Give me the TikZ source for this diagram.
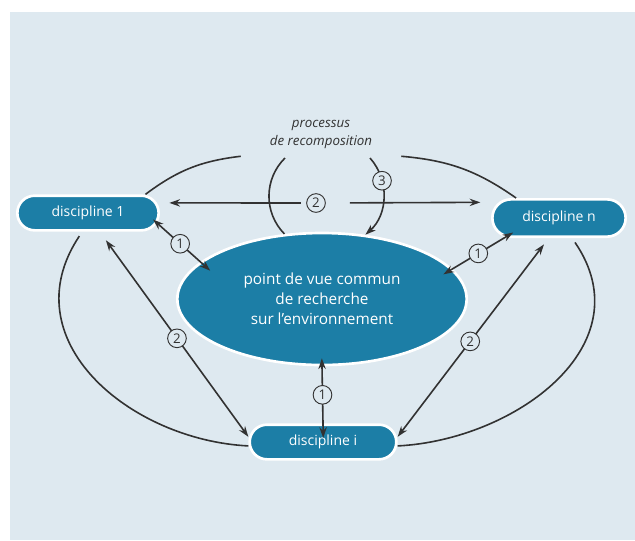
\documentclass[tikz,border=0pt]{standalone}
\usepackage{fontspec}
\setmainfont{Open Sans}
\usetikzlibrary{shapes.geometric,arrows.meta}
\definecolor{bleu}{RGB}{28,126,166}
\definecolor{fond}{RGB}{222,233,240}
\definecolor{trait}{RGB}{50,50,50}

\begin{document}
\begin{tikzpicture}[x=0.75pt,y=0.75pt,
    disc/.style={rectangle, rounded corners=13pt, fill=bleu, draw=white, line width=2pt, text=white, font=\fontsize{10.5}{12}\selectfont, minimum height=26pt},
    pdv/.style={ellipse, fill=bleu, draw=white, line width=2pt, text=white, align=center, inner sep=0pt, minimum width=217pt, minimum height=99pt, font=\fontsize{11.5}{15}\selectfont},
    num/.style={circle, draw=trait, fill=fond, line width=0.7pt, inner sep=0pt, minimum size=14pt, text=trait, font=\fontsize{10}{10}\selectfont},
    fl/.style={draw=trait, line width=1.2pt, >={Stealth[length=8pt,width=5.5pt]}},
    boucle/.style={draw=trait, line width=1.2pt}]
    \useasboundingbox (0,0) rectangle (635,-540);
    \fill[white] (0,0) rectangle (635,-540);
    \fill[fond] (10,-12) rectangle (635,-540);

    %disciplines
    \node[disc, minimum width=106pt] (d1) at (88,-213) {discipline 1};
    \node[disc, minimum width=100pt, minimum height=28pt, rounded corners=14pt] (dn) at (559,-218) {discipline n};
    \node[disc, minimum width=110pt] (di) at (323,-442) {discipline i};

    %point de vue commun
    \node[pdv] (pdv) at (322,-299) {point de vue commun\\de recherche\\sur l'environnement};

    %titre
    \node[align=center, text=trait, font=\fontsize{10}{13.5}\selectfont\itshape, minimum width=120pt, minimum height=33pt, inner sep=0pt] (titre) at (321,-134) {processus\\de recomposition};

    %boucle de recomposition
    \draw[boucle] (d1.18) to[bend left=15] (titre.south west);
    \draw[boucle] (titre.south east) to[bend left=15] (dn.155);
    \draw[boucle, shorten <=4pt] (d1.-107) .. controls (10,-340) and (130,-440) .. (di.183);
    \draw[boucle, shorten <=4pt] (dn.-57) .. controls (645,-345) and (515,-440) .. (di.-3);
    \coordinate (pa) at (285,-158);
    \draw[boucle] (pdv.120) to[bend left=45] (pa);

    %3
    \coordinate (p3) at (370,-158);
    \draw[fl,->] (p3) to[bend left=45] node[num, pos=0.3] {3} (pdv.56);

    %1
    \draw[fl,<->, shorten <=-7pt, shorten >=-10pt] (d1.-10) -- node[num] {1} (pdv.163);
    \draw[fl,<->, shorten <=-8pt, shorten >=-8pt] (pdv.13) -- node[num] {1} (dn.200);
    \draw[fl,<->, shorten <=-6pt, shorten >=-11pt] (pdv.south) -- node[num] {1} (di.north);

    %2
    \draw[fl,<->, shorten <=8pt] (d1.-58) -- node[num, pos=0.52] {2} (di.176);
    \draw[fl,<->, shorten >=6pt] (di.4) -- node[num, pos=0.48] {2} (dn.-117);
    \node[num] (n2) at (316,-203) {2};
    \draw[fl,->, shorten <=4pt, shorten >=7pt] (n2) -- (d1.8);
    \draw[fl,->, shorten <=18pt, shorten >=8pt] (n2) -- (dn.167);
\end{tikzpicture}
\end{document}
